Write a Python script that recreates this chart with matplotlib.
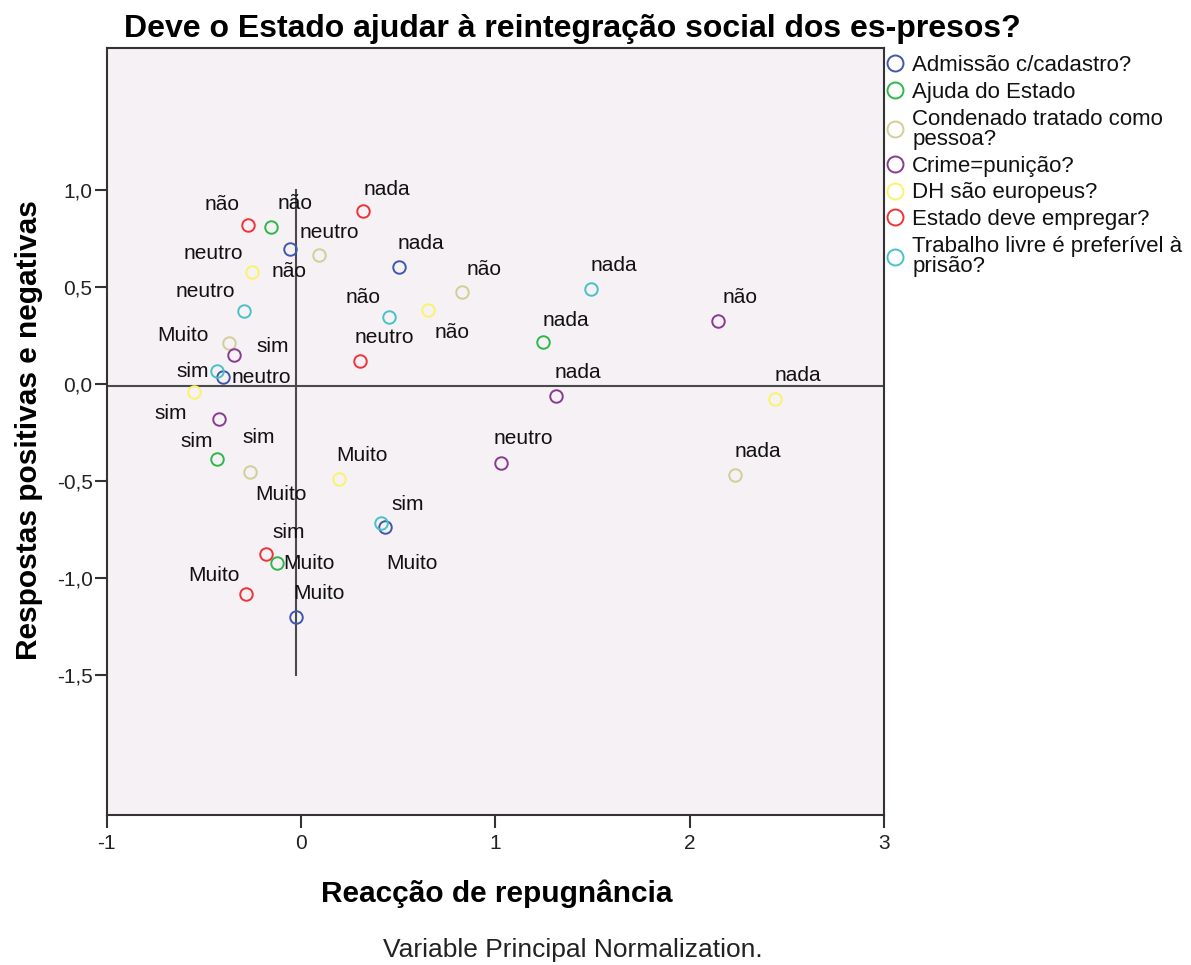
import matplotlib.pyplot as plt
from matplotlib.lines import Line2D

plt.rcParams['font.family'] = ['Liberation Sans', 'DejaVu Sans']

# Variables in the biplot (legend order)
variables = ['Admissão c/cadastro?', 'Ajuda do Estado',
             'Condenado tratado como\npessoa?', 'Crime=punição?',
             'DH são europeus?', 'Estado deve empregar?',
             'Trabalho livre é preferível à\nprisão?']
colors = ['#3E58AC', '#2EB848', '#D3CE97', '#8A3A92', '#FBF36A', '#EF3338', '#48C2C5']

# Category quantifications: dimension 1 (x) and dimension 2 (y)
adm_cats = ['Muito', 'sim', 'neutro', 'não', 'nada']
adm_x = [-0.024, 0.434, -0.402, -0.057, 0.503]
adm_y = [-1.203, -0.736, 0.035, 0.697, 0.605]

ajuda_cats = ['Muito', 'sim', 'não', 'nada']
ajuda_x = [-0.121, -0.433, -0.155, 1.244]
ajuda_y = [-0.924, -0.388, 0.808, 0.216]

cond_cats = ['Muito', 'sim', 'neutro', 'não', 'nada']
cond_x = [-0.263, -0.368, 0.091, 0.831, 2.233]
cond_y = [-0.454, 0.210, 0.665, 0.474, -0.469]

crime_cats = ['Muito', 'sim', 'neutro', 'não', 'nada']
crime_x = [-0.344, -0.420, 1.032, 2.145, 1.311]
crime_y = [0.148, -0.180, -0.407, 0.325, -0.062]

dh_cats = ['Muito', 'sim', 'neutro', 'não', 'nada']
dh_x = [0.196, -0.548, -0.251, 0.656, 2.440]
dh_y = [-0.491, -0.043, 0.579, 0.381, -0.077]

emp_cats = ['Muito', 'sim', 'neutro', 'não', 'nada']
emp_x = [-0.284, -0.177, 0.304, -0.270, 0.321]
emp_y = [-1.082, -0.878, 0.120, 0.820, 0.890]

trab_cats = ['Muito', 'sim', 'neutro', 'não', 'nada']
trab_x = [0.414, -0.433, -0.292, 0.454, 1.491]
trab_y = [-0.715, 0.069, 0.378, 0.347, 0.490]

all_cats = [adm_cats, ajuda_cats, cond_cats, crime_cats, dh_cats, emp_cats, trab_cats]
all_x = [adm_x, ajuda_x, cond_x, crime_x, dh_x, emp_x, trab_x]
all_y = [adm_y, ajuda_y, cond_y, crime_y, dh_y, emp_y, trab_y]

# where each category label sits relative to its point (pixels)
label_offsets = [
    [(23, 24), (22, 22), (39, 0), (-1, -23), (22, 23)],
    [(32, 0), (-20, 18), (24, 24), (23, 22)],
    [(31, -22), (43, -3), (11, 22), (22, 23), (23, 23)],
    [(-51, 20), (39, -19), (22, 24), (22, 23), (22, 24)],
    [(23, 24), (-24, -21), (-39, 18), (24, -22), (23, 23)],
    [(-32, 18), (22, 22), (24, 23), (-26, 20), (24, 22)],
    [(31, -41), (-24, -1), (-39, 19), (-26, 19), (23, 23)],
]

W, H = 1191, 965
fig = plt.figure(figsize=(W / 100, H / 100), dpi=100)
ax = fig.add_axes([106.5 / W, 1 - 815 / H, (884 - 106.5) / W, (815 - 48) / H])
ax.set_facecolor('#F5F1F5')

# reference lines through the origin region
ax.plot([-0.025, -0.025], [-1.5, 1.0], color='#4A4A4A', lw=1.5, zorder=1)
ax.axhline(-0.008, color='#4A4A4A', lw=1.5, zorder=1)

handles = []
for name, col, cats, xs, ys, offs in zip(variables, colors, all_cats, all_x, all_y, label_offsets):
    ax.plot(xs, ys, ls='none', marker='o', ms=9, mfc='none', mec=col, mew=1.4, zorder=3)
    for c, x, y, o in zip(cats, xs, ys, offs):
        ax.annotate(c, (x, y), xytext=o, textcoords='offset pixels',
                    ha='center', va='center', fontsize=15, color='#111111', zorder=4)
    handles.append(Line2D([], [], ls='none', marker='o', ms=11.5, mfc='none', mec=col, mew=1.4))

ax.set_xlim(-1, 3)
ax.set_ylim(-2.222, 1.732)
ax.set_xticks([-1, 0, 1, 2, 3])
ax.set_xticklabels(['-1', '0', '1', '2', '3'])
yt = [-1.5, -1.0, -0.5, 0.0, 0.5, 1.0]
ax.set_yticks(yt)
ax.set_yticklabels([f'{v:.1f}'.replace('.', ',') for v in yt])
ax.tick_params(direction='out', length=9, width=1.5, color='#333333',
               labelsize=15, labelcolor='#222222')
ax.tick_params(axis='y', pad=1)
ax.tick_params(axis='x', pad=5)
for s in ax.spines.values():
    s.set_linewidth(1.5)
    s.set_color('#333333')

leg = ax.legend(handles, variables, loc='upper left', bbox_to_anchor=(884 / W, 1 - 55 / H),
                bbox_transform=fig.transFigure, frameon=False, fontsize=16,
                handlelength=1.0, handletextpad=0.27, borderpad=0, borderaxespad=0,
                labelspacing=0.26)
for t in leg.get_texts():
    t.set_linespacing(0.95)
    t.set_color('#111111')

fig.text(572 / W, 1 - 37 / H, 'Deve o Estado ajudar à reintegração social dos es-presos?',
         ha='center', va='baseline', fontsize=23, fontweight='bold')
fig.text(497 / W, 1 - 902 / H, 'Reacção de repugnância',
         ha='center', va='baseline', fontsize=21.5, fontweight='bold')
fig.text(29 / W, 1 - 430 / H, 'Respostas positivas e negativas', rotation=90,
         ha='center', va='center', fontsize=21.5, fontweight='bold')
fig.text(573 / W, 1 - 957 / H, 'Variable Principal Normalization.',
         ha='center', va='baseline', fontsize=19, color='#222222')

fig.savefig('out.png', dpi=100)
